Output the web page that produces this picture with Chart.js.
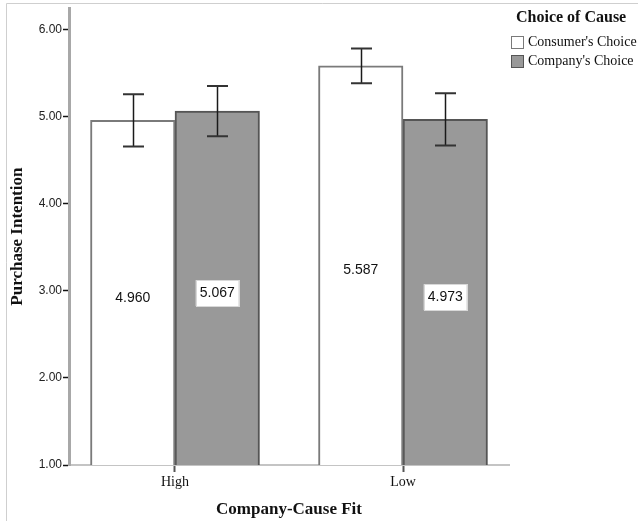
<!DOCTYPE html>
<html>
<head>
<meta charset="utf-8">
<script src="https://cdn.jsdelivr.net/npm/chart.js@4/dist/chart.umd.min.js"></script>
<style>
html,body{margin:0;padding:0;background:#fff;}
#wrap{position:relative;width:638px;height:521px;}
</style>
</head>
<body>
<div id="wrap"><canvas id="c" width="638" height="521"></canvas></div>
<script>
const categories = ["High", "Low"];
const seriesNames = ["Consumer's Choice", "Company's Choice"];
const consumerMeans = [4.960, 5.587];
const companyMeans = [5.067, 4.973];
const consumerErr = [0.30, 0.20];
const companyErr = [0.29, 0.30];
const yTicks = [1, 2, 3, 4, 5, 6];
const yLimits = [1, 6.25];

const fills = ['#ffffff', '#999999'];
const borders = ['#7a7a7a', '#555555'];
const errs = [consumerErr, companyErr];

function toPoints(arr){ return arr.map((v,i)=>({x:i+1,y:v})); }

const framePlugin = {
  id:'frame',
  beforeDraw(chart){
    const ctx = chart.ctx;
    ctx.save();
    ctx.strokeStyle = '#cfcfcf';
    ctx.lineWidth = 1;
    ctx.beginPath();
    ctx.moveTo(6.5, 521); ctx.lineTo(6.5, 3.5); ctx.lineTo(638, 3.5);
    ctx.stroke();
    ctx.restore();
  }
};

const errorPlugin = {
  id:'errbars',
  afterDatasetsDraw(chart){
    const ctx = chart.ctx;
    const ys = chart.scales.y;
    ctx.save();
    chart.data.datasets.forEach((ds, di) => {
      const meta = chart.getDatasetMeta(di);
      meta.data.forEach((bar, i) => {
        const v = ds.data[i].y, e = errs[di][i];
        const x = Math.round(bar.x) + 0.5;
        const yt = ys.getPixelForValue(v + e), yb = ys.getPixelForValue(v - e);
        ctx.strokeStyle = '#1a1a1a';
        ctx.lineWidth = 1.5;
        ctx.beginPath(); ctx.moveTo(x, yt); ctx.lineTo(x, yb); ctx.stroke();
        ctx.strokeStyle = '#333';
        ctx.lineWidth = 2;
        ctx.beginPath();
        ctx.moveTo(x - 10.5, yt); ctx.lineTo(x + 10.5, yt);
        ctx.moveTo(x - 10.5, yb); ctx.lineTo(x + 10.5, yb);
        ctx.stroke();
      });
    });
    ctx.restore();
  }
};

const labelPlugin = {
  id:'vlabels',
  afterDatasetsDraw(chart){
    const ctx = chart.ctx;
    const ys = chart.scales.y;
    ctx.save();
    ctx.font = '14px "Liberation Sans", Arial, sans-serif';
    ctx.textAlign = 'center';
    ctx.textBaseline = 'middle';
    chart.data.datasets.forEach((ds, di) => {
      const meta = chart.getDatasetMeta(di);
      meta.data.forEach((bar, i) => {
        const v = ds.data[i].y;
        const y = ys.getPixelForValue((v + yLimits[0]) / 2) + 5;
        const txt = v.toFixed(3);
        if (di === 1) {
          const w = ctx.measureText(txt).width + 8;
          ctx.fillStyle = '#fff';
          ctx.fillRect(bar.x - w/2, y - 13, w, 26);
          ctx.strokeStyle = '#d8d8d8';
          ctx.lineWidth = 1;
          ctx.strokeRect(Math.round(bar.x - w/2) + 0.5, Math.round(y - 13) + 0.5, Math.round(w), 26);
        }
        ctx.fillStyle = '#111';
        ctx.fillText(txt, bar.x, y);
      });
    });
    ctx.restore();
  }
};

const legendPlugin = {
  id:'legendBox',
  afterDraw(chart){
    const ctx = chart.ctx;
    ctx.save();
    ctx.fillStyle = '#111';
    ctx.font = 'bold 16px "Liberation Serif", "Times New Roman", serif';
    ctx.textAlign = 'left';
    ctx.textBaseline = 'middle';
    ctx.fillText('Choice of Cause', 516, 18);
    ctx.font = '14px "Liberation Serif", "Times New Roman", serif';
    const ysItem = [42, 61];
    seriesNames.forEach((n, i) => {
      const y = ysItem[i];
      ctx.fillStyle = fills[i];
      ctx.fillRect(511, y - 6, 12, 12);
      ctx.strokeStyle = borders[i];
      ctx.lineWidth = 1;
      ctx.strokeRect(511.5, y - 5.5, 12, 12);
      ctx.fillStyle = '#111';
      ctx.fillText(n, 528, y);
    });
    ctx.restore();
  }
};

const chart = new Chart(document.getElementById('c'), {
  type: 'bar',
  data: {
    datasets: [
      { label: seriesNames[0], data: toPoints(consumerMeans), backgroundColor: fills[0], borderColor: borders[0], borderWidth: 2, barThickness: 84.5 },
      { label: seriesNames[1], data: toPoints(companyMeans), backgroundColor: fills[1], borderColor: borders[1], borderWidth: 2, barThickness: 84.5 }
    ]
  },
  options: {
    responsive: false,
    animation: false,
    layout: { padding: { left: 0, right: 129, top: 3, bottom: 0 } },
    plugins: { legend: { display: false }, tooltip: { enabled: false } },
    scales: {
      x: {
        type: 'linear',
        min: 0.5351, max: 2.4649,
        offset: false,
        afterBuildTicks(s){ s.ticks = categories.map((c,i)=>({value:i+1})); },
        afterFit(s){ s.height = 56; },
        ticks: {
          callback: (v) => categories[Math.round(v) - 1],
          font: { family: '"Liberation Serif", "Times New Roman", serif', size: 14 },
          color: '#111',
          padding: 2,
          maxRotation: 0
        },
        grid: { offset: false, drawOnChartArea: false, drawTicks: true, tickLength: 7, tickColor: '#555', tickWidth: 2 },
        border: { color: '#c4c4c4', width: 2 },
        title: { display: true, text: 'Company-Cause Fit', font: { family: '"Liberation Serif", "Times New Roman", serif', size: 17, weight: 'bold' }, color: '#111', padding: { top: 2, bottom: 1 } }
      },
      y: {
        min: yLimits[0], max: yLimits[1],
        afterBuildTicks(s){ s.ticks = yTicks.map(v=>({value:v})); },
        afterFit(s){ s.width = 69; },
        ticks: {
          callback: (v) => Number(v).toFixed(2),
          font: { family: '"Liberation Sans", Arial, sans-serif', size: 12 },
          color: '#222',
          padding: 1
        },
        grid: { drawOnChartArea: false, drawTicks: true, tickLength: 6, tickColor: '#111', tickWidth: 1.5 },
        border: { color: '#a8a8a8', width: 3 },
        title: { display: true, text: 'Purchase Intention', font: { family: '"Liberation Serif", "Times New Roman", serif', size: 17, weight: 'bold' }, color: '#111', padding: { top: 7, bottom: 4 } }
      }
    }
  },
  plugins: [framePlugin, errorPlugin, labelPlugin, legendPlugin]
});
</script>
</body>
</html>
